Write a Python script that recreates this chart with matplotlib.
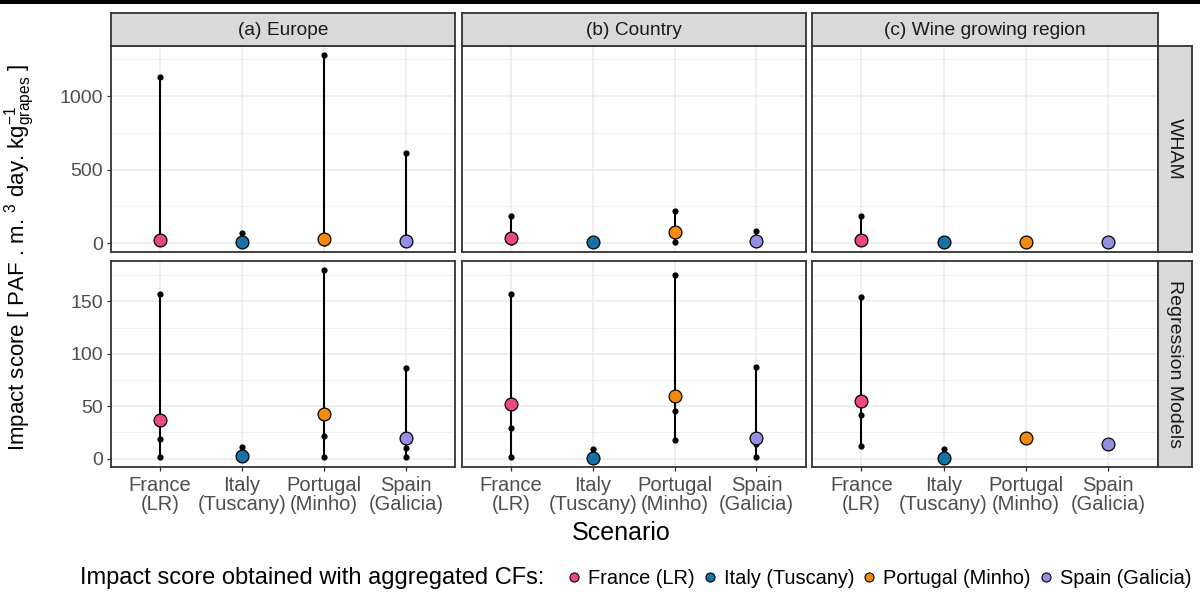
import matplotlib
matplotlib.use("Agg")
import matplotlib.pyplot as plt
from matplotlib.ticker import MultipleLocator
from matplotlib.lines import Line2D
from matplotlib.patches import Rectangle

plt.rcParams['font.family'] = ['Liberation Sans', 'DejaVu Sans']
plt.rcParams['mathtext.fontset'] = 'custom'
plt.rcParams['mathtext.rm'] = 'Liberation Sans'
plt.rcParams['mathtext.it'] = 'Liberation Sans:italic'
plt.rcParams['mathtext.bf'] = 'Liberation Sans:bold'

# ---------------- data ----------------
categories = ["France\n(LR)", "Italy\n(Tuscany)", "Portugal\n(Minho)", "Spain\n(Galicia)"]
legend_labels = ["France (LR)", "Italy (Tuscany)", "Portugal (Minho)", "Spain (Galicia)"]
scales = ["(a) Europe", "(b) Country", "(c) Wine growing region"]
models = ["WHAM", "Regression Models"]
colors = ["#EC4A7B", "#1673A8", "#F5890A", "#938FE6"]

# impact scores with individual (non-aggregated) CFs, per country
wham_europe_cf = [[3, 12, 1130], [1, 3, 68], [3, 14, 1278], [2, 8, 614]]
wham_country_cf = [[9, 28, 186], [1, 2, 4], [9, 60, 216], [4, 10, 82]]
wham_wine_cf = [[4, 15, 186], [1, 2, 4], [2, 3, 5], [2, 3, 5]]
reg_europe_cf = [[2, 19, 157], [1, 3, 11], [2, 22, 180], [2, 10, 86]]
reg_country_cf = [[2, 29, 157], [1, 2, 9.5], [18, 45, 175], [2, 14, 87]]
reg_wine_cf = [[12, 42, 154], [1, 2, 9.5], [19, 19.5, 20], [12, 13, 14]]

# impact scores with aggregated CFs
wham_europe_agg = [22, 4, 25, 16]
wham_country_agg = [34, 4, 77, 16]
wham_wine_agg = [22, 4, 4, 5]
reg_europe_agg = [37, 3, 43, 20]
reg_country_agg = [52.5, 1, 60, 20]
reg_wine_agg = [55, 1, 19.6, 14]

cf_grid = [[wham_europe_cf, wham_country_cf, wham_wine_cf],
           [reg_europe_cf, reg_country_cf, reg_wine_cf]]
agg_grid = [[wham_europe_agg, wham_country_agg, wham_wine_agg],
            [reg_europe_agg, reg_country_agg, reg_wine_agg]]
major_steps = [500, 50]
minor_steps = [250, 25]

# ---------------- layout ----------------
W, H = 1200, 597
fig = plt.figure(figsize=(W / 100, H / 100), dpi=100)
fig.patch.set_facecolor("white")

def fr(x0, y0, x1, y1):
    return [x0 / W, 1 - y1 / H, (x1 - x0) / W, (y1 - y0) / H]

col_x = [(110.5, 455), (462, 805.5), (812, 1157.5)]
row_y = [(46, 252.3), (260.5, 467)]
strip_top = (13, 46)
strip_right = (1157.5, 1191.5)

border_col = "#333333"
grid_col = "#EBEBEB"
tick_txt = "#4D4D4D"

# top black band (part of reference)
fig.patches.append(Rectangle((0, 1 - 4 / H), 1, 4 / H, transform=fig.transFigure,
                             facecolor="black", edgecolor="none", zorder=10))

for r in range(2):
    vals = []
    for c in range(3):
        for cf in cf_grid[r][c]:
            vals += cf
        vals += agg_grid[r][c]
    lo, hi = min(vals), max(vals)
    pad = 0.05 * (hi - lo)
    for c in range(3):
        ax = fig.add_axes(fr(col_x[c][0], row_y[r][0], col_x[c][1], row_y[r][1]))
        ax.set_xlim(0.4, 4.6)
        ax.set_ylim(lo - pad, hi + pad)
        ax.yaxis.set_major_locator(MultipleLocator(major_steps[r]))
        ax.yaxis.set_minor_locator(MultipleLocator(minor_steps[r]))
        ax.set_xticks(range(1, 5))
        ax.grid(which="major", color=grid_col, lw=1.1, zorder=0)
        ax.grid(which="minor", axis="y", color=grid_col, lw=0.55, zorder=0)
        ax.set_axisbelow(True)
        for s in ax.spines.values():
            s.set_color(border_col)
            s.set_linewidth(1.3)
        ax.tick_params(which="minor", length=0)
        ax.tick_params(which="major", length=3.2, width=0.9, color=border_col,
                       labelsize=14, labelcolor=tick_txt, pad=2)
        ax.tick_params(axis="x", labelsize=14.5, pad=3)
        if c != 0:
            ax.tick_params(axis="y", which="major", length=0, labelleft=False)
        if r == 1:
            ax.set_xticklabels(categories, linespacing=1.02)
        else:
            ax.tick_params(axis="x", which="major", length=0, labelbottom=False)

        for i in range(4):
            cf = cf_grid[r][c][i]
            agg = agg_grid[r][c][i]
            ys = sorted(cf + [agg])
            ax.plot([i + 1] * len(ys), ys, color="black", lw=1.5, zorder=2,
                    solid_capstyle="butt")
            ax.scatter([i + 1] * len(cf), cf, s=20, color="black", zorder=3,
                       linewidths=0)
            ax.scatter([i + 1], [agg], s=85, color=colors[i], edgecolors="black",
                       linewidths=0.9, zorder=4)

        if r == 0:
            sax = fig.add_axes(fr(col_x[c][0], strip_top[0], col_x[c][1], strip_top[1]))
            sax.set_facecolor("#D9D9D9")
            sax.set_xticks([]); sax.set_yticks([])
            for s in sax.spines.values():
                s.set_color(border_col); s.set_linewidth(1.3)
            sax.text(0.5, 0.47, scales[c], ha="center", va="center", fontsize=13.8,
                     color="#1A1A1A", transform=sax.transAxes)

    rax = fig.add_axes(fr(strip_right[0], row_y[r][0], strip_right[1], row_y[r][1]))
    rax.set_facecolor("#D9D9D9")
    rax.set_xticks([]); rax.set_yticks([])
    for s in rax.spines.values():
        s.set_color(border_col); s.set_linewidth(1.3)
    rax.text(0.5, 0.5, models[r], ha="center", va="center", fontsize=14,
             color="#1A1A1A", rotation=-90, transform=rax.transAxes)

# axis titles
fig.text(20 / W, 1 - 257 / H,
         r"Impact score [ PAF . m. $^{3}$ day. kg$_{\mathrm{grapes}}^{-1}$ ]",
         rotation=90, ha="center", va="center", fontsize=16, color="black")
fig.text(621 / W, 1 - 533 / H, "Scenario", ha="center", va="center",
         fontsize=18, color="black")

# legend
fig.text(80 / W, 1 - 578 / H, "Impact score obtained with aggregated CFs:",
         ha="left", va="center", fontsize=17, color="black")
handles = [Line2D([], [], marker="o", linestyle="none", markersize=6.5,
                  markerfacecolor=col, markeredgecolor="black", markeredgewidth=0.8)
           for col in colors]
fig.legend(handles, legend_labels, loc="center left",
           bbox_to_anchor=(566 / W, 1 - 578 / H), ncol=4, frameon=False,
           fontsize=14.4, handlelength=0.8, handletextpad=0.3, columnspacing=0.35,
           borderaxespad=0, borderpad=0)

fig.savefig("out.png", dpi=100, facecolor="white")
